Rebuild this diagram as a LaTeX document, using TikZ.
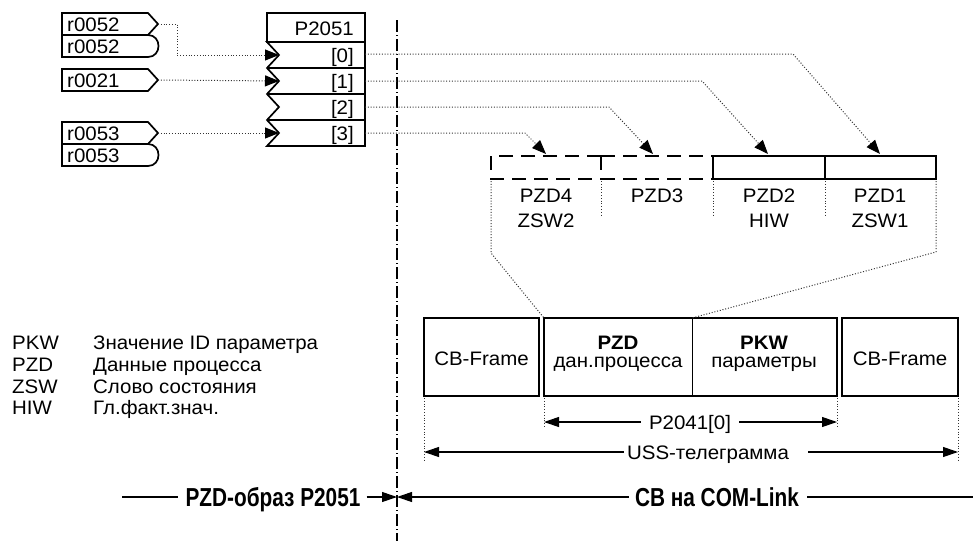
\documentclass[tikz,border=0pt]{standalone}
\usepackage{fontspec}
\setmainfont{Liberation Sans}[FakeStretch=1.05]
\newfontfamily\narrowbold{Liberation Sans}[FakeStretch=0.8]
\usetikzlibrary{arrows.meta}
\begin{document}
\begin{tikzpicture}[x=1pt,y=-1pt,
  txt/.style={font=\fontsize{19.5}{22}\selectfont, inner sep=0pt},
  bigtxt/.style={font=\narrowbold\bfseries\fontsize{26}{28}\selectfont, inner sep=0pt},
  conbox/.style={line width=1.7pt, line join=miter},
  pbox/.style={line width=1.7pt},
  thickbox/.style={line width=2.5pt},
  dashbox/.style={line width=2.5pt, dash pattern=on 14pt off 8pt},
  dotline/.style={line width=1pt, black!80, dash pattern=on 1pt off 1.8pt},
  dotarrow/.style={dotline, -{Triangle[length=14pt,width=11pt,color=black]}},
  dimarrow/.style={line width=1.1pt, -{Triangle[length=15pt,width=10pt]}},
  sepline/.style={line width=1.1pt, dash pattern=on 12pt off 3pt on 1pt off 3pt}
]
\useasboundingbox (0,0) rectangle (973,541);

% ---------- input connectors ----------
\draw[conbox] (62,13) -- (148,13) -- (158,24) -- (148,35) -- (62,35) -- cycle;
\draw[conbox] (62,35) -- (148,35) .. controls (162,35) and (162,57) .. (148,57) -- (62,57) -- cycle;
\draw[conbox] (62,69) -- (148,69) -- (158,80) -- (148,91) -- (62,91) -- cycle;
\draw[conbox] (62,122) -- (148,122) -- (158,133) -- (148,144) -- (62,144) -- cycle;
\draw[conbox] (62,144) -- (148,144) .. controls (162,144) and (162,166) .. (148,166) -- (62,166) -- cycle;
\node[txt, anchor=base west] (ra) at (67,31) {r0052};
\node[txt, anchor=base west] (rb) at (67,53) {r0052};
\node[txt, anchor=base west] (rc) at (67,87) {r0021};
\node[txt, anchor=base west] (rd) at (67,140) {r0053};
\node[txt, anchor=base west] (re) at (67,162) {r0053};
\coordinate (ta) at (158,24);
\coordinate (tc) at (158,80);
\coordinate (td) at (158,133);

% ---------- P2051 block ----------
\draw[pbox] (267,13) rectangle (365,42);
\draw[pbox] (267,42) -- (365,42) -- (365,146) -- (267,146) -- (279,133) -- (267,120)
  -- (279,107) -- (267,94) -- (279,81) -- (267,68) -- (279,55) -- cycle;
\draw[pbox] (267,68) -- (365,68) (267,94) -- (365,94) (267,120) -- (365,120);
\node[txt, anchor=base east] (ph) at (354,35) {P2051};
\node[txt, anchor=base east] (p0) at (354,62) {[0]};
\node[txt, anchor=base east] (p1) at (354,88) {[1]};
\node[txt, anchor=base east] (p2) at (354,114) {[2]};
\node[txt, anchor=base east] (p3) at (354,140) {[3]};
\coordinate (i0) at (279,55);
\coordinate (i1) at (279,81);
\coordinate (i3) at (279,133);
\coordinate (o0) at (365,54);
\coordinate (o1) at (365,81);
\coordinate (o2) at (365,107);
\coordinate (o3) at (365,133);

\draw[dotarrow] (ta) -- (177,24) -- (177,55) -- (i0);
\draw[dotarrow] (tc) -- (i1);
\draw[dotarrow] (td) -- (i3);

% ---------- separator ----------
\draw[sepline] (397,20) -- (397,541);

% ---------- PZD words ----------
\draw[dashbox] (601,156) -- (491,156) -- (491,179) -- (601,179);
\draw[dashbox] (601,156) -- (601,179);
\draw[dashbox] (601,156) -- (713,156);
\draw[dashbox] (601,179) -- (713,179);
\draw[thickbox] (713,156) rectangle (825,179);
\draw[thickbox] (825,156) rectangle (936,179);
\coordinate (z4) at (546,154);
\coordinate (z3) at (653,154);
\coordinate (z2) at (768,154);
\coordinate (z1) at (880,154);
\node[txt, anchor=base] (w4a) at (546,202) {PZD4};
\node[txt, anchor=base] (w4b) at (546,227) {ZSW2};
\node[txt, anchor=base] (w3a) at (657,202) {PZD3};
\node[txt, anchor=base] (w2a) at (769,202) {PZD2};
\node[txt, anchor=base] (w2b) at (769,227) {HIW};
\node[txt, anchor=base] (w1a) at (880,202) {PZD1};
\node[txt, anchor=base] (w1b) at (880,227) {ZSW1};

\draw[dotarrow] (o0) -- (793,54) -- (z1);
\draw[dotarrow] (o1) -- (702,81) -- (z2);
\draw[dotarrow] (o2) -- (609,107) -- (z3);
\draw[dotarrow] (o3) -- (525,133) -- (z4);

\draw[dotline] (601,181) -- (601,216);
\draw[dotline] (713,181) -- (713,217);
\draw[dotline] (825,181) -- (825,215);

% ---------- USS telegram ----------
\draw[thickbox] (424,318) rectangle (539,396);
\draw[thickbox] (544,318) rectangle (837,396);
\draw[line width=1pt] (692,318) -- (692,396);
\draw[thickbox] (842,318) rectangle (958,396);
\node[txt, anchor=base] (cbl) at (481.5,365) {CB-Frame};
\node[txt, anchor=base] (cbr) at (900,365) {CB-Frame};
\node[txt, anchor=base] (pzda) at (618,349) {\textbf{PZD}};
\node[txt, anchor=base] (pzdb) at (618,367) {дан.процесса};
\node[txt, anchor=base] (pkwa) at (764,349) {\textbf{PKW}};
\node[txt, anchor=base] (pkwb) at (764,367) {параметры};

\coordinate (pzdtop) at (544,318);
\coordinate (divtop) at (692,318);
\draw[dotline] (491,181) -- (491,253) -- (pzdtop);
\draw[dotline] (936,181) -- (936,252) -- (divtop);

\draw[dotline] (424,398) -- (424,460);
\draw[dotline] (958,398) -- (958,460);
\draw[dotline] (544,398) -- (544,427);
\draw[dotline] (837,398) -- (837,427);

\node[txt, anchor=base] (p2041) at (690,429) {P2041[0]};
\coordinate (pa) at (544,422);
\coordinate (pb) at (837,422);
\draw[dimarrow] (p2041.west |- pa) ++(-8,0) -- (pa);
\draw[dimarrow] (p2041.east |- pb) ++(8,0) -- (pb);

\node[txt, anchor=base] (uss) at (708,459) {USS-телеграмма};
\coordinate (ua) at (424,452);
\coordinate (ub) at (958,452);
\draw[dimarrow] (uss.west |- ua) ++(-3,0) -- (ua);
\draw[dimarrow] (uss.east |- ub) ++(19,0) -- (ub);

% ---------- legend ----------
\node[txt, anchor=base west] (l1a) at (12,349) {PKW};
\node[txt, anchor=base west] (l1b) at (93,349) {Значение ID параметра};
\node[txt, anchor=base west] (l2a) at (12,371) {PZD};
\node[txt, anchor=base west] (l2b) at (93,371) {Данные процесса};
\node[txt, anchor=base west] (l3a) at (12,393) {ZSW};
\node[txt, anchor=base west] (l3b) at (93,393) {Слово состояния};
\node[txt, anchor=base west] (l4a) at (12,414) {HIW};
\node[txt, anchor=base west] (l4b) at (93,414) {Гл.факт.знач.};

% ---------- bottom ----------
\coordinate (mid) at (397,497);
\coordinate (lstart) at (122,497);
\coordinate (rend) at (973,497);
\node[bigtxt, anchor=base] (lefttxt) at (273,506) {PZD-образ P2051};
\node[bigtxt, anchor=base] (righttxt) at (717,506) {CB на COM-Link};
\draw[line width=1.1pt] (lstart) -- ([xshift=-7pt]lefttxt.west |- mid);
\draw[dimarrow] ([xshift=6pt]lefttxt.east |- mid) -- (mid);
\draw[dimarrow] ([xshift=-6pt]righttxt.west |- mid) -- (mid);
\draw[line width=1.1pt] ([xshift=8pt]righttxt.east |- mid) -- (rend);
\end{tikzpicture}
\end{document}
